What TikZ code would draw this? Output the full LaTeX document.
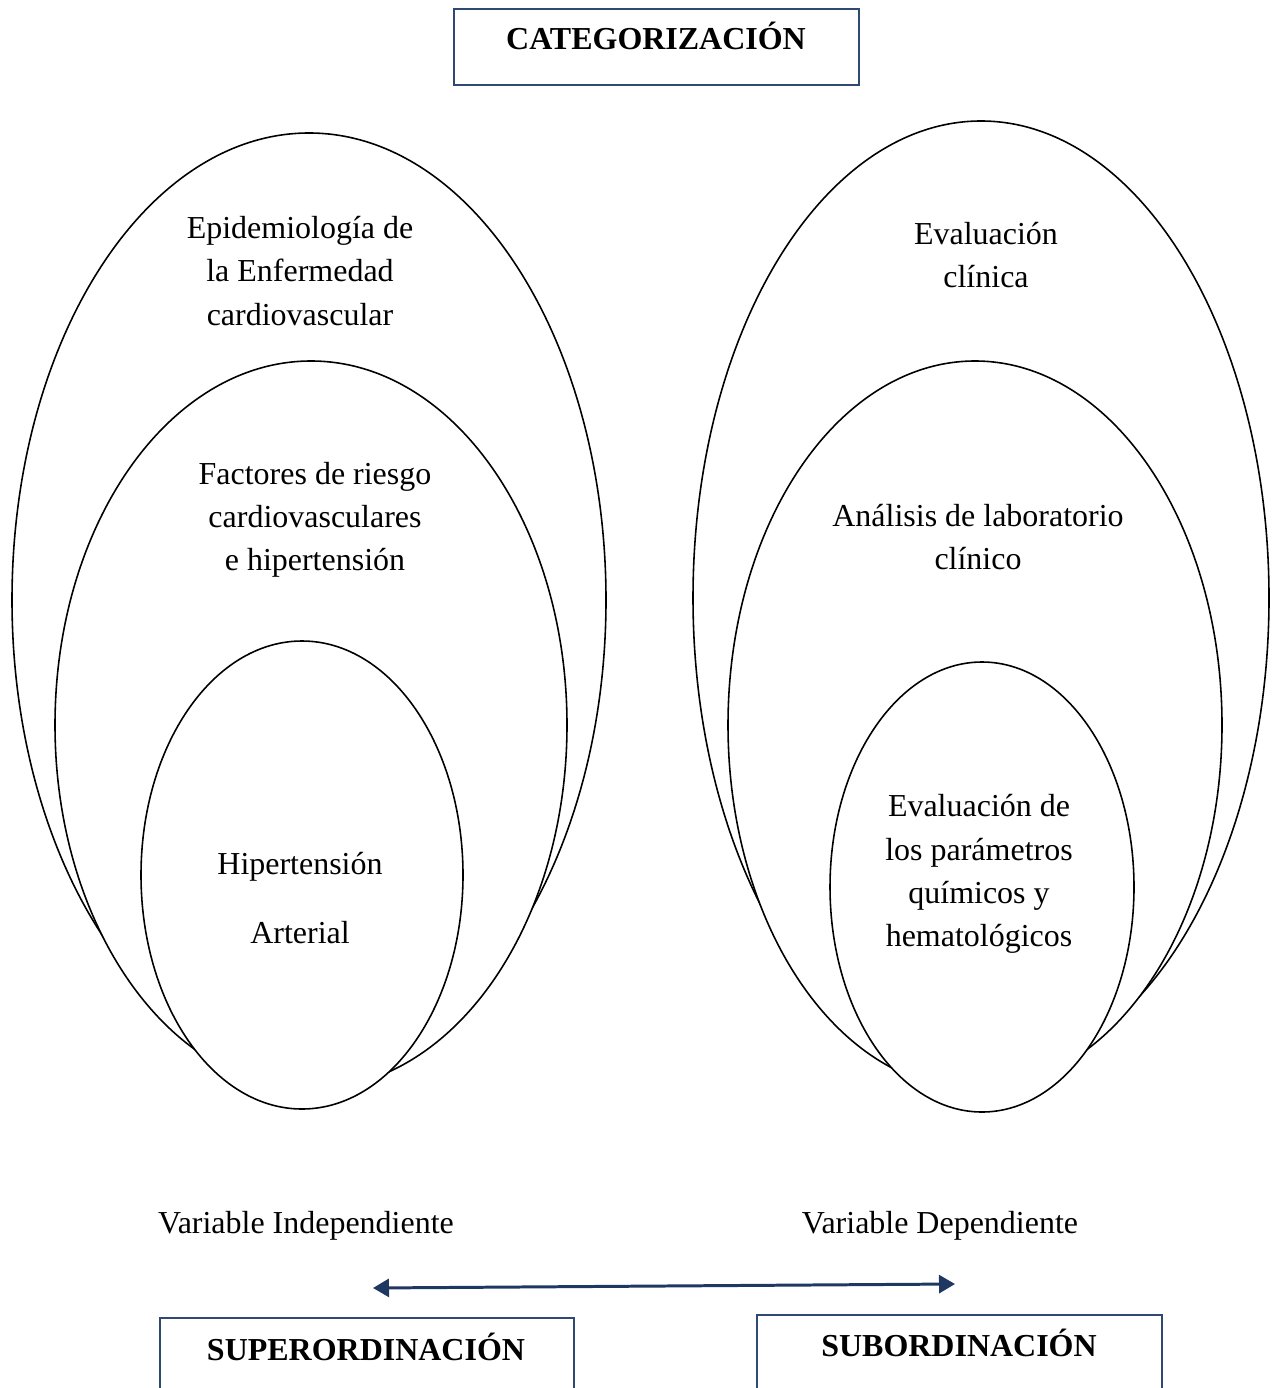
\documentclass[tikz,border=0pt]{standalone}
\usepackage{fontspec}
\setmainfont{Liberation Serif}
\usepackage{tikz}
\usetikzlibrary{arrows.meta,positioning}
\definecolor{framenavy}{RGB}{47,74,114}
\definecolor{arrownavy}{RGB}{31,56,98}

\begin{document}
\begin{tikzpicture}[
    x=0.02cm, y=-0.02cm,
    oval/.style={draw=black, line width=0.9pt, fill=white},
    label/.style={font=\fontsize{18.2}{24.6}\selectfont, align=center, inner sep=0pt},
    title/.style={label, font=\fontsize{18.2}{24.6}\selectfont\bfseries},
    frame/.style={draw=framenavy, line width=1.1pt},
    biarrow/.style={draw=arrownavy, line width=1.7pt,
                    {Triangle[length=0.32cm,width=0.36cm]}-{Triangle[length=0.32cm,width=0.36cm]}}
]
    \useasboundingbox (0,0) rectangle (1278,1388);

    % top title
    \draw[frame] (454,9) rectangle (859,85);
    \node[title] (categ) at (656,36) {CATEGORIZACIÓN};

    % left nest: independent variable
    \draw[oval] (309,600) ellipse [x radius=297, y radius=467];
    \draw[oval] (311,725) ellipse [x radius=256, y radius=364];
    \draw[oval] (302,875) ellipse [x radius=161, y radius=234];
    \node[label] (epidem) at (300,271) {Epidemiología de\\la Enfermedad\\cardiovascular};
    \node[label] (factores) at (315,520) {Factores de riesgo\\cardiovasculares\\e hipertensión};
    \node[label] (hta) at (300,898) {Hipertensión\\[15pt]Arterial};

    % right nest: dependent variable
    \draw[oval] (981,598) ellipse [x radius=288, y radius=477];
    \draw[oval] (975,725) ellipse [x radius=247, y radius=364];
    \draw[oval] (982,887) ellipse [x radius=152, y radius=225];
    \node[label] (evalclin) at (986,255) {Evaluación\\clínica};
    \node[label] (analisis) at (978,537) {Análisis de laboratorio\\clínico};
    \node[label] (param) at (979,874) {Evaluación de\\los parámetros\\químicos y\\hematológicos};

    % variables
    \node[label] (varind) at (306,1226) {Variable Independiente};
    \node[label] (vardep) at (940,1226) {Variable Dependiente};

    % arrow between both sides
    \coordinate (arrL) at (373,1288);
    \coordinate (arrR) at (955,1284);
    \draw[biarrow] (arrL) -- (arrR);

    % bottom boxes
    \draw[frame] (160,1400) |- (574,1318) -- (574,1400);
    \node[title] (super) at (366,1347) {SUPERORDINACIÓN};
    \draw[frame] (757,1400) |- (1162,1315) -- (1162,1400);
    \node[title] (subord) at (959,1343) {SUBORDINACIÓN};
\end{tikzpicture}
\end{document}
